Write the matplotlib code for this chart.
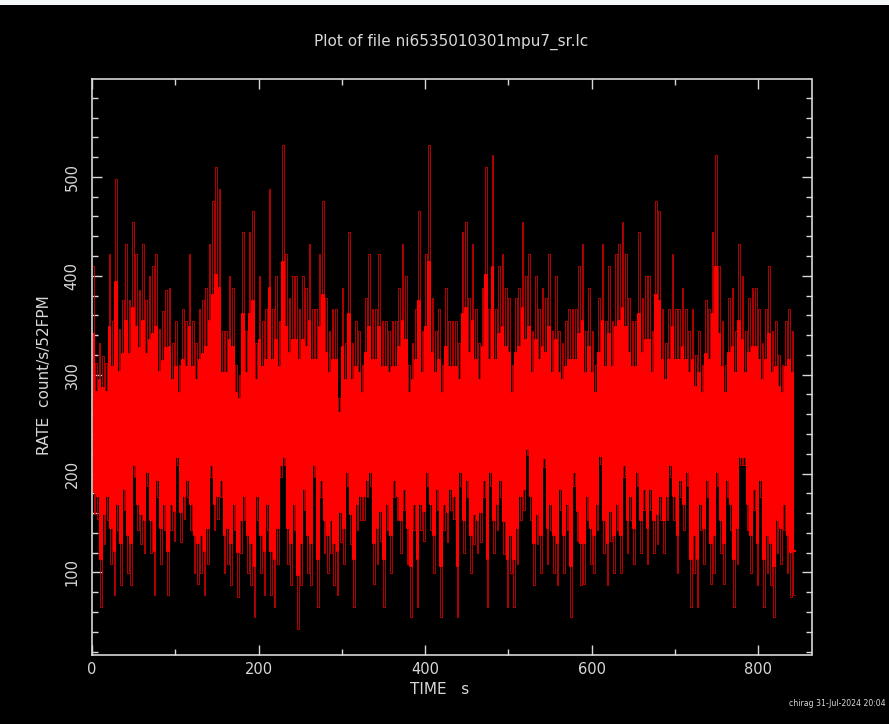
import numpy as np
import matplotlib
matplotlib.use("Agg")
import matplotlib.pyplot as plt
from matplotlib.ticker import MultipleLocator

# Light curve: upper (hi) and lower (lo) excursions every 4 s
bin_step = 4.0
hi = [
    410, 312, 332, 319, 312, 422, 354, 498, 346, 376, 432, 376, 454, 422, 386, 432, 376, 400,
    410, 422, 346, 364, 386, 388, 332, 354, 310, 366, 354, 422, 354, 332, 366, 376, 388, 432,
    476, 510, 488, 344, 344, 400, 388, 310, 300, 444, 344, 444, 466, 332, 400, 354, 366, 488,
    366, 400, 354, 532, 422, 378, 400, 400, 366, 400, 388, 432, 366, 366, 422, 476, 378, 344,
    366, 366, 276, 388, 332, 444, 332, 354, 344, 310, 378, 422, 366, 366, 422, 354, 354, 344,
    354, 354, 388, 432, 400, 310, 332, 366, 466, 344, 422, 532, 378, 344, 366, 310, 388, 354,
    354, 354, 332, 444, 454, 378, 432, 366, 332, 388, 510, 366, 522, 366, 410, 422, 388, 378,
    310, 378, 388, 454, 400, 422, 344, 400, 366, 388, 378, 422, 344, 400, 344, 332, 354, 366,
    366, 366, 410, 432, 344, 388, 344, 310, 378, 432, 354, 410, 354, 422, 432, 454, 422, 378,
    354, 354, 444, 378, 400, 400, 344, 476, 466, 366, 332, 366, 422, 366, 366, 388, 366, 344,
    366, 320, 344, 310, 376, 366, 444, 522, 410, 354, 310, 378, 388, 344, 432, 400, 344, 378,
    388, 388, 366, 332, 366, 410, 344, 354, 320, 310, 354, 366, 344,
]
lo = [
    159, 154, 65, 129, 153, 109, 77, 143, 87, 163, 99, 87, 197, 143, 129, 120, 187, 120,
    77, 176, 109, 143, 77, 143, 132, 209, 131, 154, 176, 143, 99, 88, 99, 77, 109, 197,
    143, 154, 176, 99, 109, 87, 143, 75, 120, 153, 99, 87, 55, 153, 99, 77, 143, 77,
    65, 109, 197, 209, 109, 87, 143, 43, 87, 163, 99, 87, 197, 65, 176, 120, 99, 120,
    87, 77, 131, 109, 187, 129, 65, 143, 153, 153, 176, 187, 88, 109, 132, 65, 143, 99,
    176, 153, 120, 163, 109, 55, 143, 65, 143, 132, 187, 143, 99, 163, 55, 143, 131, 163,
    154, 55, 187, 120, 176, 99, 129, 120, 131, 176, 65, 187, 120, 143, 176, 119, 65, 99,
    65, 109, 153, 163, 219, 153, 87, 129, 99, 207, 109, 143, 99, 87, 163, 99, 143, 55,
    187, 132, 87, 88, 153, 109, 99, 143, 210, 120, 87, 132, 99, 143, 99, 197, 120, 153,
    109, 187, 120, 163, 109, 163, 120, 129, 153, 120, 153, 197, 153, 99, 176, 143, 187, 65,
    99, 65, 143, 109, 176, 88, 99, 187, 120, 88, 176, 143, 65, 109, 209, 209, 143, 99,
    163, 87, 176, 65, 99, 87, 55, 120, 109, 143, 99, 75, 77,
]
mean_rate = 238.0

title = "Plot of file ni6535010301mpu7_sr.lc"
xlabel = "TIME   s"
ylabel = "RATE  count/s/52FPM"
stamp = "chirag 31-Jul-2024 20:04"

# build the step series: high value at start of each bin, low value half a bin later
n = min(len(hi), len(lo))
t0 = np.arange(n) * bin_step
t = np.empty(2 * n + 1)
y = np.empty(2 * n + 1)
t[0:-1:2] = t0
t[1:-1:2] = t0 + bin_step / 2
t[-1] = t0[-1] + bin_step
y[0:-1:2] = hi[:n]
y[1:-1:2] = lo[:n]
y[-1] = lo[n - 1]

W, H = 889, 724
fig = plt.figure(figsize=(W / 100, H / 100), dpi=100, facecolor="black")
ax = fig.add_axes([92 / W, 1 - 655 / H, (811.5 - 92) / W, (655 - 79) / H])
ax.set_facecolor("black")

# thin outer excursions
ax.step(t, y, where="post", color="#d00000", lw=0.6)
# dense core of the band (same series, drawn pulled toward the mean with a heavy line)
dev = y - mean_rate
y_core = mean_rate + np.where(dev > 0, 0.6, 0.72) * dev
ax.step(t, y_core, where="post", color="#ff0000", lw=1.5)

ax.set_xlim(0, 864)
ax.set_ylim(16.5, 599)

fg = "#d8d8d8"
for s in ax.spines.values():
    s.set_color(fg)
    s.set_linewidth(1.2)
ax.xaxis.set_major_locator(MultipleLocator(200))
ax.xaxis.set_minor_locator(MultipleLocator(100))
ax.yaxis.set_major_locator(MultipleLocator(100))
ax.yaxis.set_minor_locator(MultipleLocator(20))
ax.tick_params(which="both", direction="in", top=True, right=True, colors=fg, width=1.0)
ax.tick_params(which="major", length=7, labelsize=10.5)
ax.tick_params(axis="x", which="major", pad=5)
ax.tick_params(axis="y", which="major", pad=9)
ax.tick_params(which="minor", length=4)
for lab in ax.get_yticklabels():
    lab.set_rotation(90)
    lab.set_va("center")

fig.text(451.5 / W, 1 - 42 / H, title, color=fg, fontsize=11, ha="center", va="center")
fig.text(440 / W, 1 - 690 / H, xlabel, color=fg, fontsize=11, ha="center", va="center")
fig.text(45 / W, 1 - 375 / H, ylabel, color=fg, fontsize=11, ha="center", va="center",
         rotation=90)
fig.text(886 / W, 1 - 704 / H, stamp, color=fg, fontsize=5.6, ha="right", va="center")

# thin light strip at the very top of the window
fig.patches.append(matplotlib.patches.Rectangle((0, 1 - 5 / H), 1, 5 / H, transform=fig.transFigure,
                                                 facecolor="#f4f8f8", edgecolor="none"))

fig.savefig("out.png", dpi=100, facecolor="black")
